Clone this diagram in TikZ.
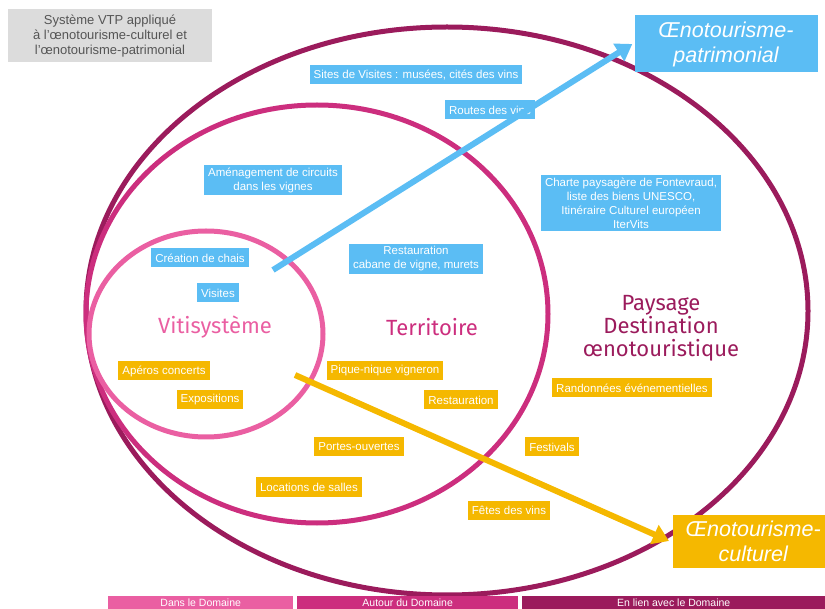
\documentclass[tikz,border=0pt]{standalone}
\usepackage{fontspec}
\setmainfont{Liberation Sans}
\newfontfamily\handfont{Fira Sans}
\usetikzlibrary{arrows.meta}
\definecolor{cpink}{HTML}{EA5FA2}
\definecolor{cmag}{HTML}{CC2E7E}
\definecolor{cdark}{HTML}{9B1B5C}
\definecolor{cblue}{HTML}{5BBDF4}
\definecolor{corange}{HTML}{F5B800}
\definecolor{cgrayfill}{HTML}{DCDCDC}
\definecolor{cgraytext}{HTML}{555555}
\tikzset{
  ring/.style={line width=5pt},
  bbox/.style={fill=cblue, text=white, font=\fontsize{11.5}{14}\selectfont, inner xsep=4pt, inner ysep=2.5pt, align=center, minimum height=19pt},
  obox/.style={fill=corange, text=white, font=\fontsize{11.5}{14}\selectfont, inner xsep=4pt, inner ysep=2.5pt, align=center, minimum height=19pt},
  bigbox/.style={text=white, font=\fontsize{21.5}{25}\selectfont\itshape, align=center, inner xsep=6pt, inner ysep=3pt},
  hand/.style={font=\handfont\fontsize{22}{23}\selectfont, align=center},
  bar/.style={text=white, font=\fontsize{10.5}{12}\selectfont, minimum height=13pt, text height=7.5pt, text depth=0pt, inner sep=0pt, anchor=north west},
  bigarrow/.style={line width=6pt, -{Triangle[width=20pt,length=16pt]}}
}
\begin{document}
\begin{tikzpicture}[x=1pt,y=-1pt]
\useasboundingbox (0,0) rectangle (825,609);
\clip (0,0) rectangle (825,609);
% rings
\draw[ring, cdark] (447,311) ellipse [x radius=361, y radius=284];
\draw[ring, cmag] (317,314) ellipse [x radius=231, y radius=209];
\draw[ring, cpink] (206,334) ellipse [x radius=117, y radius=103];
% title
\node[fill=cgrayfill, text=cgraytext, font=\fontsize{13}{15}\selectfont, align=center, minimum width=204pt, minimum height=53pt, inner sep=2pt] (title) at (110,36) {Système VTP appliqué\\à l’œnotourisme-culturel et\\l’œnotourisme-patrimonial};
% blue boxes
\node[bbox] (sites) at (416,75) {Sites de Visites : musées, cités des vins};
\node[bbox] (routes) at (490,110) {Routes des vins};
\node[bbox] (amen) at (273,180) {Aménagement de circuits\\dans les vignes};
\node[bbox] (chais) at (200,258) {Création de chais};
\node[bbox] (visites) at (218,293) {Visites};
\node[bbox] (resto1) at (416,259) {Restauration\\cabane de vigne, murets};
\node[bbox] (charte) at (631,203) {Charte paysagère de Fontevraud,\\liste des biens UNESCO,\\Itinéraire Culturel européen\\IterVits};
% orange boxes
\node[obox] (aperos) at (164,371) {Apéros concerts};
\node[obox] (expos) at (210,400) {Expositions};
\node[obox] (pique) at (385,371) {Pique-nique vigneron};
\node[obox] (resto2) at (461,400) {Restauration};
\node[obox] (portes) at (359,447) {Portes-ouvertes};
\node[obox] (locs) at (309,487) {Locations de salles};
\node[obox] (rando) at (632,388) {Randonnées événementielles};
\node[obox] (fest) at (552,447) {Festivals};
\node[obox] (fetes) at (509,510) {Fêtes des vins};
% ring labels
\node[hand, text=cpink] (viti) at (215,327) {Vitisystème};
\node[hand, text=cmag] (terr) at (432,327) {Territoire};
\node[hand, text=cdark] (pays) at (661,328) {Paysage\\Destination\\œnotouristique};
% target boxes
\node[bigbox, fill=cblue, minimum width=183pt, minimum height=57pt] (patri) at (726,44) {Œnotourisme-\\patrimonial};
\node[bigbox, fill=corange, minimum width=160pt, minimum height=53pt, anchor=west] (cult) at (673,541) {Œnotourisme-\\culturel};
% arrows
\coordinate (bstart) at (273,270);
\coordinate (ostart) at (295,375);
\draw[bigarrow, cblue] (bstart) -- ([xshift=-2pt]patri.west);
\draw[bigarrow, corange] (ostart) -- ([xshift=-4pt]cult.west);
% bottom bars
\node[bar, fill=cpink, minimum width=185pt] (b1) at (108,596) {Dans le Domaine};
\node[bar, fill=cmag, minimum width=221pt] (b2) at (297,596) {Autour du Domaine};
\node[bar, fill=cdark, minimum width=303pt] (b3) at (522,596) {En lien avec le Domaine};
\end{tikzpicture}
\end{document}
